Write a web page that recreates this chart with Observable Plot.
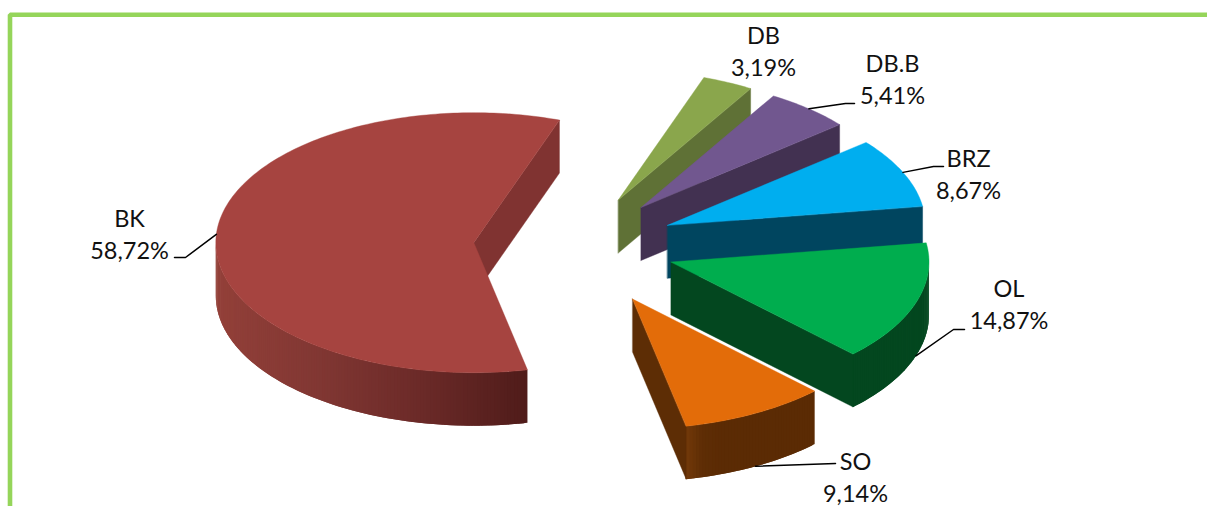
<!DOCTYPE html>
<html>
<head>
<meta charset="utf-8">
<script src="https://cdn.jsdelivr.net/npm/d3@7"></script>
<script src="https://cdn.jsdelivr.net/npm/@observablehq/plot@0.6"></script>
<style>
html,body{margin:0;padding:0;background:#fff;overflow:hidden}
svg{display:block}
</style>
</head>
<body>
<div id="chart"></div>
<script>
// --- values (pie order, clockwise) ---
const names  = ["BK", "DB", "DB.B", "BRZ", "OL", "SO"];
const shares = [58.72, 3.19, 5.41, 8.67, 14.87, 9.14];
const valueLabels = ["58,72%", "3,19%", "5,41%", "8,67%", "14,87%", "9,14%"];
const explosion = [0.395, 0.39, 0.39, 0.39, 0.39, 0.464];

// --- styling ---
const topColors  = ["#A64440", "#8AA64C", "#71578F", "#00AEEF", "#00AD4E", "#E36C09"];
const edgeColors = ["#803331", "#5F7136", "#423151", "#00455F", "#03471F", "#5D2D05"];
const outerRamps = [
  ["#934039", "#813733", "#6B2A28", "#501C1A"],
  ["#5F7136"], ["#423151"], ["#00455F"],
  ["#03471F"],
  ["#743A0A", "#5E2D05", "#5B2B04", "#5B2B04", "#5B2B04", "#5B2B04", "#5B2B04", "#5B2B04"]
];
const frameColor = "#95D55A";

// --- pie projection ---
const pie = {cx: 575, cy: 245.5, rx: 258, ry: 130, depth: 53, start: 168};
// label layout
const labelAt = [[129, 232], [763, 49], [892, 77], [968, 172], [1008.5, 302], [855, 475]];
const kneeAt  = [[[185, 257], [174, 257]], null, [[845, 103], [854, 103]], [[933, 166], [943, 166]], [[953, 329], [964, 329]], [[835, 463]]];
const framePath = [[9.5, 506], [9.5, 14.3], [1207, 14.3]];

// --- geometry derived from the shares ---
const rad = d => d * Math.PI / 180;
let acc = pie.start;
const slices = names.map((name, i) => {
  const a0 = acc, a1 = acc + shares[i] * 3.6;
  acc = a1 >= 360 ? a1 - 360 : a1;
  const mid = (a0 + a1) / 2;
  const ax = pie.cx + explosion[i] * pie.rx * Math.sin(rad(mid));
  const ay = pie.cy - explosion[i] * pie.ry * Math.cos(rad(mid));
  const at = t => [ax + pie.rx * Math.sin(rad(t)), ay - pie.ry * Math.cos(rad(t))];
  return {i, name, a0, a1, mid, ax, ay, at};
});

const addPoly = (list, id, color, pts) => pts.forEach(([x, y]) => list.push({id, color, x, y}));
const arc = (s, a, b, step = 1) => {
  const n = Math.max(1, Math.ceil(Math.abs(b - a) / step));
  return d3.range(n + 1).map(k => s.at(a + (b - a) * k / n));
};

// Faces are emitted back to front; each slice holds its walls then its top.
const faceLayers = [];
for (const s of slices) {
  const d = pie.depth;
  const layer = {edge: [], outer: [], top: []};
  const tip = s.at(s.a1);
  addPoly(layer.edge, `${s.name}-edge`, edgeColors[s.i], [[s.ax, s.ay], tip, [tip[0], tip[1] + d], [s.ax, s.ay + d]]);
  const lo = Math.max(s.a0, 90), hi = Math.min(s.a1, 270);
  if (hi > lo) {
    const xs = [s.at(lo)[0], s.at(hi)[0]];
    const x0 = Math.min(...xs), x1 = Math.max(...xs);
    const stops = outerRamps[s.i];
    const ramp = stops.length > 1 ? d3.piecewise(d3.interpolateRgb, stops) : () => stops[0];
    const n = Math.ceil((hi - lo) / 0.75);
    // every strip overlaps the next one so that no seams show
    for (let k = 0; k < n; ++k) {
      const t0 = lo + (hi - lo) * k / n;
      const t1 = Math.min(hi + 0.15, lo + (hi - lo) * (k + 2) / n);
      const p0 = s.at(t0), p1 = s.at(t1);
      const c = ramp((p0[0] - x0) / (x1 - x0));
      addPoly(layer.outer, `${s.name}-outer-${k}`, c, [p0, p1, [p1[0], p1[1] + d], [p0[0], p0[1] + d]]);
    }
  }
  addPoly(layer.top, `${s.name}-top`, topColors[s.i], [[s.ax, s.ay], ...arc(s, s.a0, s.a1)]);
  faceLayers.push(layer);
}

const labels = slices.map(s => ({
  text: `${s.name}\n${valueLabels[s.i]}`,
  x: labelAt[s.i][0], y: labelAt[s.i][1]
}));

const leaders = [];
slices.forEach(s => {
  if (!kneeAt[s.i]) return;
  const p = s.at(s.mid);
  const y0 = (s.mid > 90 && s.mid < 270) ? p[1] + pie.depth : p[1];
  [[p[0], y0], ...kneeAt[s.i]].forEach(([x, y]) => leaders.push({id: s.name, x, y}));
});
const frame = framePath.map(([x, y]) => ({x, y}));

const faceMarks = faceLayers.flatMap(l => [
  Plot.line(l.outer, {x: "x", y: "y", z: "id", fill: "color", stroke: "none", curve: "linear-closed"}),
  Plot.line(l.edge, {x: "x", y: "y", z: "id", fill: "color", stroke: "color", strokeWidth: 0.4, curve: "linear-closed"}),
  Plot.line(l.top, {x: "x", y: "y", z: "id", fill: "color", stroke: "color", strokeWidth: 0.4, curve: "linear-closed"})
]);

const chart = Plot.plot({
  width: 1207,
  height: 506,
  margin: 0,
  x: {domain: [0, 1207], range: [0, 1207], axis: null},
  y: {domain: [0, 506], range: [0, 506], axis: null},
  color: {type: "identity"},
  style: {background: "#fff", fontFamily: "Lato, sans-serif"},
  marks: [
    Plot.line(frame, {x: "x", y: "y", stroke: frameColor, strokeWidth: 4.6, strokeLinejoin: "miter", curve: "linear"}),
    ...faceMarks,
    Plot.line(leaders, {x: "x", y: "y", z: "id", stroke: "#000", strokeWidth: 1.5, curve: "linear"}),
    Plot.text(labels, {x: "x", y: "y", text: "text", fontSize: 23.5, lineHeight: 1.36, fill: "#111", textAnchor: "middle"})
  ]
});
document.getElementById("chart").appendChild(chart);
</script>
</body>
</html>
